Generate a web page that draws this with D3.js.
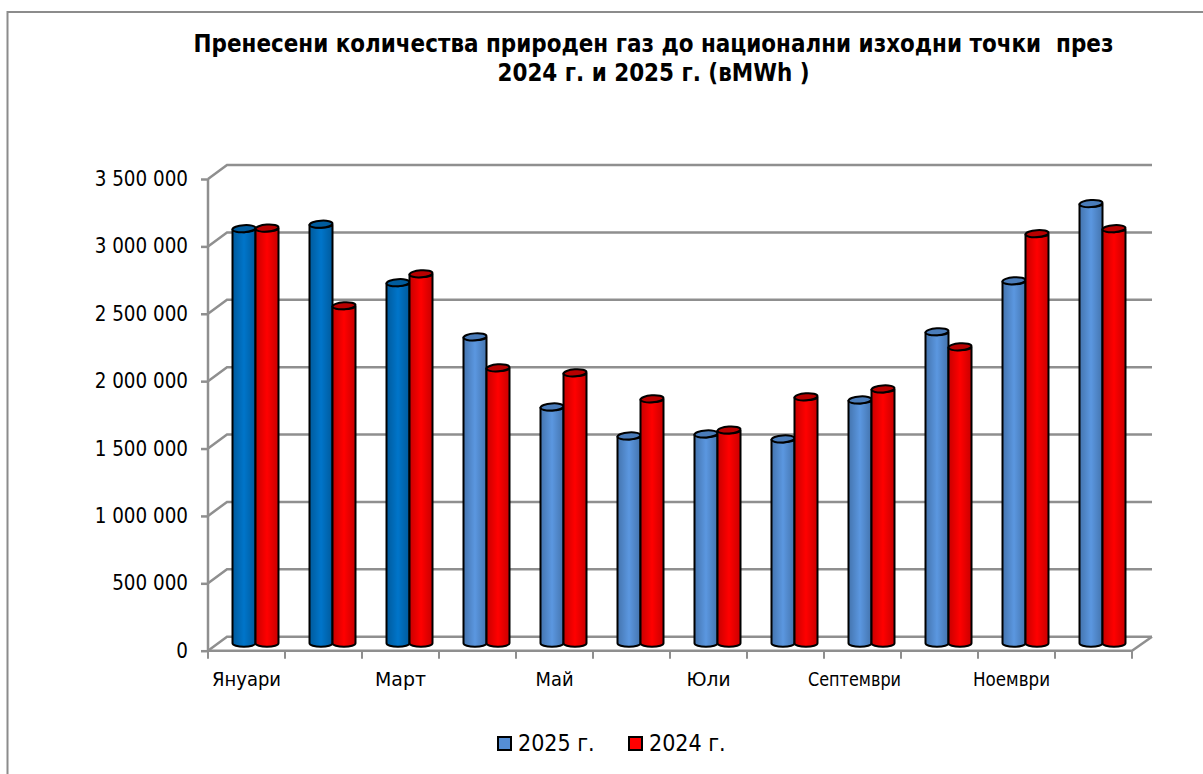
<!DOCTYPE html>
<html>
<head>
<meta charset="utf-8">
<script src="https://cdn.jsdelivr.net/npm/d3@7"></script>
<style>
  html, body { margin: 0; padding: 0; background: #fff; }
  svg { display: block; }
  text { font-family: "DejaVu Sans Condensed", "DejaVu Sans", sans-serif; fill: #000; white-space: pre; }
</style>
</head>
<body>
<svg id="chart" width="1203" height="774"></svg>
<script>
const months = ['Януари', 'Февруари', 'Март', 'Април', 'Май', 'Юни', 'Юли', 'Август', 'Септември', 'Октомври', 'Ноември', 'Декември'];
const values2025 = [3076000, 3109000, 2675000, 2273000, 1753000, 1538000, 1553000, 1516000, 1805000, 2311000, 2689000, 3262000];
const values2024 = [3080000, 2504000, 2741000, 2043000, 2006000, 1813000, 1582000, 1828000, 1887000, 2199000, 3039000, 3076000];
const yTicks = [0, 500000, 1000000, 1500000, 2000000, 2500000, 3000000, 3500000];
const titleLines = ['Пренесени количества природен газ до национални изходни точки  през', '2024 г. и 2025 г. (вMWh )'];
const legendLabels = ['2025 г.', '2024 г.'];
// months of 2025 that Excel painted in the darker blue
const darkMonths = ['Януари', 'Февруари', 'Март'];

const svg = d3.select('#chart');
const gridColor = '#8f8f8f';

// 3D look: back wall is shifted from the front axis by this much
const depthX = 19, depthY = -14;

const x = d3.scaleBand().domain(months).range([208, 1132]);
const y = d3.scaleLinear().domain([0, 3500000]).range([650.7, 179]);
const series = d3.scaleBand().domain(legendLabels).range([0, 46]);

// Gradients
const defs = svg.append('defs');
function cylinderGradient(id, edge, mid) {
  const g = defs.append('linearGradient').attr('id', id);
  g.append('stop').attr('offset', '0%').attr('stop-color', edge);
  g.append('stop').attr('offset', '50%').attr('stop-color', mid);
  g.append('stop').attr('offset', '100%').attr('stop-color', edge);
}
cylinderGradient('gradDark', '#005a9c', '#0075ca');
cylinderGradient('gradBlue', '#4474ae', '#5b97e0');
cylinderGradient('gradRed', '#c80000', '#ff0000');

// Chart frame (only top and left are in the picture)
svg.append('path')
  .attr('d', 'M7.5,774V12H1203')
  .attr('fill', 'none')
  .attr('stroke', '#8c8c8c')
  .attr('stroke-width', 2);

// Back wall gridlines with the slanted side wall piece
const wall = svg.append('g').attr('fill', 'none').attr('stroke', gridColor).attr('stroke-width', 2.5);
wall.selectAll('path.grid')
  .data(yTicks)
  .enter()
  .append('path')
  .attr('class', 'grid')
  .attr('d', (d) => `M${x.range()[0]},${y(d)}l${depthX},${depthY}H${x.range()[1] + depthX + 1}`);

// floor front edge and right slant
wall.append('path')
  .attr('d', `M${x.range()[0]},${y(0)}H${x.range()[1]}l${depthX + 1},${depthY}`);

// Y axis
const yAxis = svg.append('g')
  .attr('transform', `translate(${x.range()[0]},0)`)
  .call(d3.axisLeft(y)
    .tickValues(yTicks)
    .tickSize(7)
    .tickPadding(13)
    .tickFormat((d) => d3.format(',')(d).replace(/,/g, ' ')));
yAxis.selectAll('line').attr('stroke', gridColor).attr('stroke-width', 2.5);
yAxis.select('.domain').remove();
yAxis.append('line')
  .attr('y1', y(3500000)).attr('y2', y(0))
  .attr('stroke', gridColor).attr('stroke-width', 2.5);
yAxis.selectAll('text').style('font-size', '20.4px').style('font-family', null);

// X ticks at band edges
svg.append('g')
  .selectAll('line')
  .data(months.concat(['end']))
  .enter()
  .append('line')
  .attr('x1', (d, i) => x.range()[0] + i * x.bandwidth())
  .attr('x2', (d, i) => x.range()[0] + i * x.bandwidth())
  .attr('y1', y(0))
  .attr('y2', y(0) + 8)
  .attr('stroke', gridColor)
  .attr('stroke-width', 2);

// Only every other month label fits
const labelNudge = { 'Септември': -8, 'Ноември': -5 };
const labelWidth = { 'Януари': 69, 'Март': 51, 'Май': 38, 'Юли': 44, 'Септември': 93, 'Ноември': 77 };
svg.append('g')
  .selectAll('text')
  .data(months.filter((d, i) => i % 2 === 0))
  .enter()
  .append('text')
  .attr('x', (d) => x(d) + x.bandwidth() / 2 + (labelNudge[d] || 0))
  .attr('y', 686)
  .attr('text-anchor', 'middle')
  .attr('textLength', (d) => labelWidth[d])
  .attr('lengthAdjust', 'spacingAndGlyphs')
  .style('font-size', '20px')
  .text((d) => d);

// Cylinders
const rx = 11.5, ry = 3.5;
const rows = [];
months.forEach((m, i) => {
  rows.push({ month: m, name: legendLabels[0], value: values2025[i] });
  rows.push({ month: m, name: legendLabels[1], value: values2024[i] });
});

function gradId(d) {
  if (d.name === legendLabels[1]) return 'gradRed';
  return darkMonths.includes(d.month) ? 'gradDark' : 'gradBlue';
}
function topColor(d) {
  if (d.name === legendLabels[1]) return '#b80000';
  return darkMonths.includes(d.month) ? '#005c9e' : '#4a7cba';
}
const barLeft = (d) => x(d.month) + (x.bandwidth() - series.range()[1]) / 2 + 9 + series(d.name);
const barTop = (d) => y(d.value) - 7.5;
const barBase = y(0) - 7.5;

const bars = svg.append('g')
  .selectAll('g')
  .data(rows)
  .enter()
  .append('g')
  .attr('stroke', '#000')
  .attr('stroke-width', 2);

bars.append('path')
  .attr('fill', (d) => `url(#${gradId(d)})`)
  .attr('d', (d) => {
    const x0 = barLeft(d), x1 = x0 + 2 * rx;
    return `M${x0},${barTop(d)}V${barBase}A${rx},${ry} 0 0 0 ${x1},${barBase}V${barTop(d)}A${rx},${ry} 0 0 1 ${x0},${barTop(d)}Z`;
  });

bars.append('ellipse')
  .attr('fill', topColor)
  .attr('rx', rx)
  .attr('ry', ry)
  .attr('transform', (d) => `translate(${barLeft(d) + rx},${barTop(d)}) rotate(-4)`);

// Title
svg.append('g')
  .selectAll('text')
  .data(titleLines)
  .enter()
  .append('text')
  .attr('x', 653.5)
  .attr('y', (d, i) => 52 + i * 28.5)
  .attr('text-anchor', 'middle')
  .style('font-size', '23.9px')
  .style('font-weight', 'bold')
  .text((d) => d);

// Legend
const legendX = [498, 629];
const legendFill = ['#558ed5', '#ff0000'];
const legend = svg.append('g')
  .selectAll('g')
  .data(legendLabels)
  .enter()
  .append('g')
  .attr('transform', (d, i) => `translate(${legendX[i]},737)`);
legend.append('rect')
  .attr('width', 13)
  .attr('height', 13)
  .attr('fill', (d, i) => legendFill[i])
  .attr('stroke', '#000')
  .attr('stroke-width', 2);
legend.append('text')
  .attr('x', 20)
  .attr('y', 14)
  .style('font-size', '23px')
  .text((d) => d);
</script>
</body>
</html>
